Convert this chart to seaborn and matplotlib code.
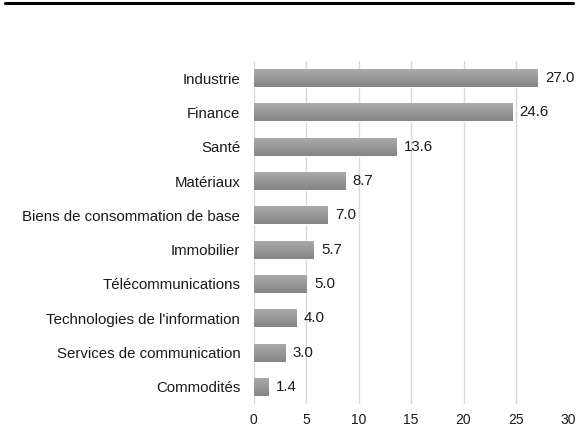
import numpy as np
import pandas as pd
import seaborn as sns
import matplotlib.pyplot as plt
from matplotlib.lines import Line2D

sectors = ["Industrie", "Finance", "Santé", "Matériaux",
           "Biens de consommation de base", "Immobilier",
           "Télécommunications", "Technologies de l'information",
           "Services de communication", "Commodités"]
weights = [27.0, 24.6, 13.6, 8.7, 7.0, 5.7, 5.0, 4.0, 3.0, 1.4]
x_ticks = [0, 5, 10, 15, 20, 25, 30]

TEXT = "#1a1a1a"
GRID = "#d9d9d9"

df = pd.DataFrame({"sector": sectors, "weight": weights})

sns.set_theme(style="white")
plt.rcParams['font.family'] = ['Liberation Sans', 'DejaVu Sans']
plt.rcParams['font.size'] = 10.8

fig = plt.figure(figsize=(5.78, 4.29), dpi=100)
ax = fig.add_axes([0.4386, 0.058, 0.545, 0.800])

sns.barplot(data=df, x="weight", y="sector", color="#999999", width=0.52,
            saturation=1, ax=ax, zorder=2)

# vertical gradient on each bar (light top, darker bottom)
grad = np.linspace(0, 1, 64).reshape(-1, 1)
cmap = plt.matplotlib.colors.LinearSegmentedColormap.from_list("g", ["#aaaaaa", "#858585"])
for p in ax.patches:
    bb = p.get_bbox()
    im = ax.imshow(grad, cmap=cmap, aspect="auto", zorder=3,
                   extent=[bb.x0, bb.x1, bb.y1, bb.y0], origin="upper")
    im.set_clip_path(p)

for p, v in zip(ax.patches, weights):
    ax.text(p.get_width() + 0.75, p.get_y() + p.get_height() / 2, f"{v:.1f}",
            va="center", ha="left", color=TEXT, fontsize=10.8, zorder=4)

ax.set_xlim(0, 30)
ax.set_ylim(len(sectors) - 0.5, -0.5)
ax.set_xticks(x_ticks)
ax.set_xticklabels([str(t) for t in x_ticks])
ax.set_xlabel("")
ax.set_ylabel("")
ax.tick_params(axis="both", length=0, colors=TEXT)
ax.tick_params(axis="x", pad=6.5, labelsize=10)
ax.tick_params(axis="y", pad=9.5, labelsize=10.8)
ax.xaxis.grid(True, color=GRID, linewidth=1, zorder=0)
ax.set_axisbelow(True)
ax.xaxis.get_gridlines()[-1].set_visible(False)
for s in ax.spines.values():
    s.set_visible(False)

# thick rule across the top of the page
fig.add_artist(Line2D([0.009, 0.991], [0.993, 0.993], color="black", linewidth=2.2,
                      transform=fig.transFigure))

fig.savefig("out.png", dpi=100)
